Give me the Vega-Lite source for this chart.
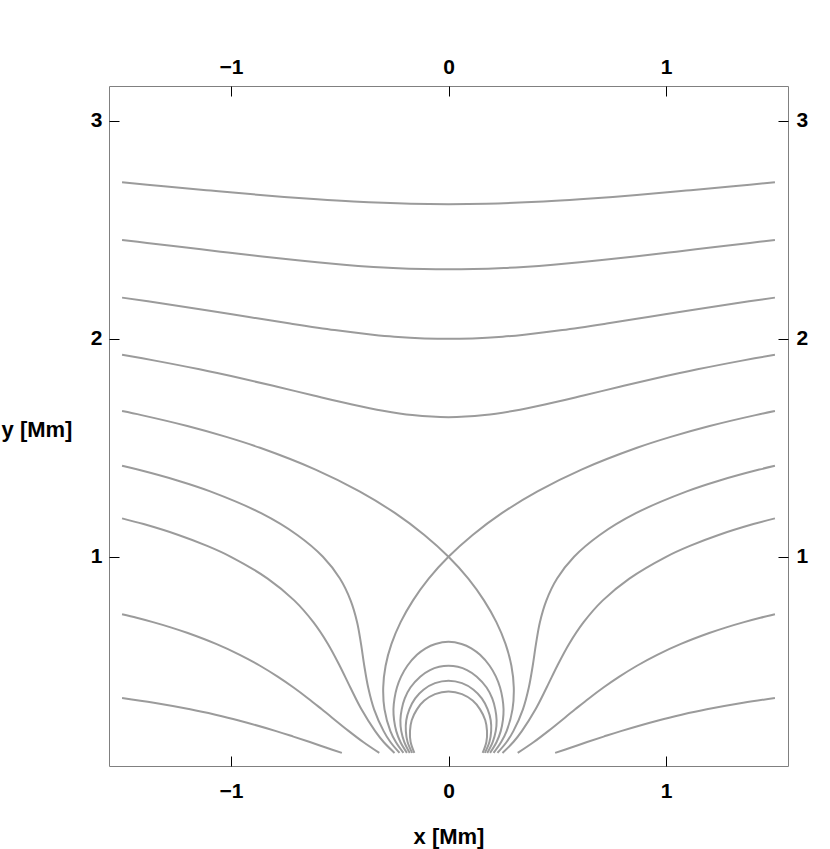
{
"$schema": "https://vega.github.io/schema/vega-lite/v6.json",
"width": 679, "height": 680,
"autosize": {"type": "none"},
"padding": {"left": 109, "top": 86, "right": 42, "bottom": 83},
"background": "white",
"config": {
  "view": {"stroke": "#808080", "strokeWidth": 1},
  "axis": {"domain": false, "grid": false, "tickColor": "#000000", "tickSize": -10, "tickWidth": 1,
    "labelFont": "Liberation Sans", "labelFontSize": 21, "labelFontWeight": "bold", "labelColor": "#000000",
    "titleFont": "Liberation Sans", "titleFontSize": 22, "titleFontWeight": "bold", "titleColor": "#000000"}
},
"data": {"values": [
{"id":"t1","i":0,"x":-1.5,"y":2.718},{"id":"t1","i":1,"x":-1.308,"y":2.70},{"id":"t1","i":2,"x":-1.092,"y":2.68},{"id":"t1","i":3,"x":-0.865,"y":2.66},{"id":"t1","i":4,"x":-0.603,"y":2.64},{"id":"t1","i":5,"x":-0.437,"y":2.63},{"id":"t1","i":6,"x":-0.174,"y":2.62},{"id":"t1","i":7,"x":0,"y":2.618},{"id":"t1","i":8,"x":0.174,"y":2.62},{"id":"t1","i":9,"x":0.437,"y":2.63},{"id":"t1","i":10,"x":0.603,"y":2.64},{"id":"t1","i":11,"x":0.865,"y":2.66},{"id":"t1","i":12,"x":1.092,"y":2.68},{"id":"t1","i":13,"x":1.308,"y":2.70},{"id":"t1","i":14,"x":1.5,"y":2.718},
{"id":"t2","i":0,"x":-1.5,"y":2.4535},{"id":"t2","i":1,"x":-1.385,"y":2.44},{"id":"t2","i":2,"x":-1.215,"y":2.42},{"id":"t2","i":3,"x":-1.047,"y":2.40},{"id":"t2","i":4,"x":-0.876,"y":2.38},{"id":"t2","i":5,"x":-0.694,"y":2.36},{"id":"t2","i":6,"x":-0.481,"y":2.34},{"id":"t2","i":7,"x":-0.345,"y":2.33},{"id":"t2","i":8,"x":-0.255,"y":2.325},{"id":"t2","i":9,"x":-0.114,"y":2.32},{"id":"t2","i":10,"x":0,"y":2.3187},{"id":"t2","i":11,"x":0.114,"y":2.32},{"id":"t2","i":12,"x":0.255,"y":2.325},{"id":"t2","i":13,"x":0.345,"y":2.33},{"id":"t2","i":14,"x":0.481,"y":2.34},{"id":"t2","i":15,"x":0.694,"y":2.36},{"id":"t2","i":16,"x":0.876,"y":2.38},{"id":"t2","i":17,"x":1.047,"y":2.40},{"id":"t2","i":18,"x":1.215,"y":2.42},{"id":"t2","i":19,"x":1.385,"y":2.44},{"id":"t2","i":20,"x":1.5,"y":2.4535},
{"id":"t3","i":0,"x":-1.5,"y":2.189},{"id":"t3","i":1,"x":-1.299,"y":2.16},{"id":"t3","i":2,"x":-1.105,"y":2.13},{"id":"t3","i":3,"x":-0.917,"y":2.10},{"id":"t3","i":4,"x":-0.727,"y":2.07},{"id":"t3","i":5,"x":-0.523,"y":2.04},{"id":"t3","i":6,"x":-0.358,"y":2.02},{"id":"t3","i":7,"x":-0.249,"y":2.01},{"id":"t3","i":8,"x":0,"y":2.0},{"id":"t3","i":9,"x":0.249,"y":2.01},{"id":"t3","i":10,"x":0.358,"y":2.02},{"id":"t3","i":11,"x":0.523,"y":2.04},{"id":"t3","i":12,"x":0.727,"y":2.07},{"id":"t3","i":13,"x":0.917,"y":2.10},{"id":"t3","i":14,"x":1.105,"y":2.13},{"id":"t3","i":15,"x":1.299,"y":2.16},{"id":"t3","i":16,"x":1.5,"y":2.189},
{"id":"t4","i":0,"x":-1.5,"y":1.927},{"id":"t4","i":1,"x":-1.349,"y":1.90},{"id":"t4","i":2,"x":-1.144,"y":1.86},{"id":"t4","i":3,"x":-0.959,"y":1.82},{"id":"t4","i":4,"x":-0.787,"y":1.78},{"id":"t4","i":5,"x":-0.620,"y":1.74},{"id":"t4","i":6,"x":-0.448,"y":1.70},{"id":"t4","i":7,"x":-0.301,"y":1.67},{"id":"t4","i":8,"x":-0.166,"y":1.65},{"id":"t4","i":9,"x":0,"y":1.6404},{"id":"t4","i":10,"x":0.166,"y":1.65},{"id":"t4","i":11,"x":0.301,"y":1.67},{"id":"t4","i":12,"x":0.448,"y":1.70},{"id":"t4","i":13,"x":0.620,"y":1.74},{"id":"t4","i":14,"x":0.787,"y":1.78},{"id":"t4","i":15,"x":0.959,"y":1.82},{"id":"t4","i":16,"x":1.144,"y":1.86},{"id":"t4","i":17,"x":1.349,"y":1.90},{"id":"t4","i":18,"x":1.5,"y":1.927},
{"id":"l1","i":0,"x":-0.191,"y":0.1},{"id":"l1","i":1,"x":-0.221,"y":0.15},{"id":"l1","i":2,"x":-0.240,"y":0.2},{"id":"l1","i":3,"x":-0.250,"y":0.25},{"id":"l1","i":4,"x":-0.253,"y":0.3},{"id":"l1","i":5,"x":-0.248,"y":0.35},{"id":"l1","i":6,"x":-0.237,"y":0.4},{"id":"l1","i":7,"x":-0.218,"y":0.45},{"id":"l1","i":8,"x":-0.189,"y":0.5},{"id":"l1","i":9,"x":-0.145,"y":0.55},{"id":"l1","i":10,"x":-0.105,"y":0.58},{"id":"l1","i":11,"x":-0.060,"y":0.6},{"id":"l1","i":12,"x":0,"y":0.6096},{"id":"l1","i":13,"x":0.060,"y":0.6},{"id":"l1","i":14,"x":0.105,"y":0.58},{"id":"l1","i":15,"x":0.145,"y":0.55},{"id":"l1","i":16,"x":0.189,"y":0.5},{"id":"l1","i":17,"x":0.218,"y":0.45},{"id":"l1","i":18,"x":0.237,"y":0.4},{"id":"l1","i":19,"x":0.248,"y":0.35},{"id":"l1","i":20,"x":0.253,"y":0.3},{"id":"l1","i":21,"x":0.250,"y":0.25},{"id":"l1","i":22,"x":0.240,"y":0.2},{"id":"l1","i":23,"x":0.221,"y":0.15},{"id":"l1","i":24,"x":0.191,"y":0.1},
{"id":"l2","i":0,"x":-0.178,"y":0.1},{"id":"l2","i":1,"x":-0.203,"y":0.15},{"id":"l2","i":2,"x":-0.217,"y":0.2},{"id":"l2","i":3,"x":-0.221,"y":0.25},{"id":"l2","i":4,"x":-0.215,"y":0.3},{"id":"l2","i":5,"x":-0.201,"y":0.35},{"id":"l2","i":6,"x":-0.175,"y":0.4},{"id":"l2","i":7,"x":-0.130,"y":0.45},{"id":"l2","i":8,"x":-0.085,"y":0.48},{"id":"l2","i":9,"x":-0.043,"y":0.495},{"id":"l2","i":10,"x":0,"y":0.5},{"id":"l2","i":11,"x":0.043,"y":0.495},{"id":"l2","i":12,"x":0.085,"y":0.48},{"id":"l2","i":13,"x":0.130,"y":0.45},{"id":"l2","i":14,"x":0.175,"y":0.4},{"id":"l2","i":15,"x":0.201,"y":0.35},{"id":"l2","i":16,"x":0.215,"y":0.3},{"id":"l2","i":17,"x":0.221,"y":0.25},{"id":"l2","i":18,"x":0.217,"y":0.2},{"id":"l2","i":19,"x":0.203,"y":0.15},{"id":"l2","i":20,"x":0.178,"y":0.1},
{"id":"l3","i":0,"x":-0.167,"y":0.1},{"id":"l3","i":1,"x":-0.188,"y":0.15},{"id":"l3","i":2,"x":-0.196,"y":0.2},{"id":"l3","i":3,"x":-0.194,"y":0.25},{"id":"l3","i":4,"x":-0.180,"y":0.3},{"id":"l3","i":5,"x":-0.153,"y":0.35},{"id":"l3","i":6,"x":-0.115,"y":0.39},{"id":"l3","i":7,"x":-0.062,"y":0.42},{"id":"l3","i":8,"x":0,"y":0.4313},{"id":"l3","i":9,"x":0.062,"y":0.42},{"id":"l3","i":10,"x":0.115,"y":0.39},{"id":"l3","i":11,"x":0.153,"y":0.35},{"id":"l3","i":12,"x":0.180,"y":0.3},{"id":"l3","i":13,"x":0.194,"y":0.25},{"id":"l3","i":14,"x":0.196,"y":0.2},{"id":"l3","i":15,"x":0.188,"y":0.15},{"id":"l3","i":16,"x":0.167,"y":0.1},
{"id":"l4","i":0,"x":-0.157,"y":0.1},{"id":"l4","i":1,"x":-0.174,"y":0.15},{"id":"l4","i":2,"x":-0.177,"y":0.2},{"id":"l4","i":3,"x":-0.169,"y":0.25},{"id":"l4","i":4,"x":-0.145,"y":0.3},{"id":"l4","i":5,"x":-0.111,"y":0.34},{"id":"l4","i":6,"x":-0.062,"y":0.37},{"id":"l4","i":7,"x":0,"y":0.382},{"id":"l4","i":8,"x":0.062,"y":0.37},{"id":"l4","i":9,"x":0.111,"y":0.34},{"id":"l4","i":10,"x":0.145,"y":0.3},{"id":"l4","i":11,"x":0.169,"y":0.25},{"id":"l4","i":12,"x":0.177,"y":0.2},{"id":"l4","i":13,"x":0.174,"y":0.15},{"id":"l4","i":14,"x":0.157,"y":0.1},
{"id":"s1","i":0,"x":-1.5,"y":1.6685},{"id":"s1","i":1,"x":-1.411,"y":1.65},{"id":"s1","i":2,"x":-1.2,"y":1.6},{"id":"s1","i":3,"x":-1.021,"y":1.55},{"id":"s1","i":4,"x":-0.866,"y":1.5},{"id":"s1","i":5,"x":-0.611,"y":1.4},{"id":"s1","i":6,"x":-0.409,"y":1.3},{"id":"s1","i":7,"x":-0.245,"y":1.2},{"id":"s1","i":8,"x":-0.111,"y":1.1},{"id":"s1","i":9,"x":0,"y":1.0},{"id":"s1","i":10,"x":0.091,"y":0.9},{"id":"s1","i":11,"x":0.163,"y":0.8},{"id":"s1","i":12,"x":0.220,"y":0.7},{"id":"s1","i":13,"x":0.262,"y":0.6},{"id":"s1","i":14,"x":0.289,"y":0.5},{"id":"s1","i":15,"x":0.300,"y":0.4},{"id":"s1","i":16,"x":0.294,"y":0.3},{"id":"s1","i":17,"x":0.267,"y":0.2},{"id":"s1","i":18,"x":0.242,"y":0.15},{"id":"s1","i":19,"x":0.207,"y":0.1},
{"id":"s2","i":0,"x":1.5,"y":1.6685},{"id":"s2","i":1,"x":1.411,"y":1.65},{"id":"s2","i":2,"x":1.2,"y":1.6},{"id":"s2","i":3,"x":1.021,"y":1.55},{"id":"s2","i":4,"x":0.866,"y":1.5},{"id":"s2","i":5,"x":0.611,"y":1.4},{"id":"s2","i":6,"x":0.409,"y":1.3},{"id":"s2","i":7,"x":0.245,"y":1.2},{"id":"s2","i":8,"x":0.111,"y":1.1},{"id":"s2","i":9,"x":0,"y":1.0},{"id":"s2","i":10,"x":-0.091,"y":0.9},{"id":"s2","i":11,"x":-0.163,"y":0.8},{"id":"s2","i":12,"x":-0.220,"y":0.7},{"id":"s2","i":13,"x":-0.262,"y":0.6},{"id":"s2","i":14,"x":-0.289,"y":0.5},{"id":"s2","i":15,"x":-0.300,"y":0.4},{"id":"s2","i":16,"x":-0.294,"y":0.3},{"id":"s2","i":17,"x":-0.267,"y":0.2},{"id":"s2","i":18,"x":-0.242,"y":0.15},{"id":"s2","i":19,"x":-0.207,"y":0.1},
{"id":"o1L","i":0,"x":-1.5,"y":1.4172},{"id":"o1L","i":1,"x":-1.428,"y":1.4},{"id":"o1L","i":2,"x":-1.246,"y":1.35},{"id":"o1L","i":3,"x":-1.095,"y":1.3},{"id":"o1L","i":4,"x":-0.861,"y":1.2},{"id":"o1L","i":5,"x":-0.695,"y":1.1},{"id":"o1L","i":6,"x":-0.577,"y":1.0},{"id":"o1L","i":7,"x":-0.499,"y":0.9},{"id":"o1L","i":8,"x":-0.450,"y":0.8},{"id":"o1L","i":9,"x":-0.420,"y":0.7},{"id":"o1L","i":10,"x":-0.402,"y":0.6},{"id":"o1L","i":11,"x":-0.387,"y":0.5},{"id":"o1L","i":12,"x":-0.369,"y":0.4},{"id":"o1L","i":13,"x":-0.342,"y":0.3},{"id":"o1L","i":14,"x":-0.298,"y":0.2},{"id":"o1L","i":15,"x":-0.267,"y":0.15},{"id":"o1L","i":16,"x":-0.225,"y":0.1},
{"id":"o1R","i":0,"x":1.5,"y":1.4172},{"id":"o1R","i":1,"x":1.428,"y":1.4},{"id":"o1R","i":2,"x":1.246,"y":1.35},{"id":"o1R","i":3,"x":1.095,"y":1.3},{"id":"o1R","i":4,"x":0.861,"y":1.2},{"id":"o1R","i":5,"x":0.695,"y":1.1},{"id":"o1R","i":6,"x":0.577,"y":1.0},{"id":"o1R","i":7,"x":0.499,"y":0.9},{"id":"o1R","i":8,"x":0.450,"y":0.8},{"id":"o1R","i":9,"x":0.420,"y":0.7},{"id":"o1R","i":10,"x":0.402,"y":0.6},{"id":"o1R","i":11,"x":0.387,"y":0.5},{"id":"o1R","i":12,"x":0.369,"y":0.4},{"id":"o1R","i":13,"x":0.342,"y":0.3},{"id":"o1R","i":14,"x":0.298,"y":0.2},{"id":"o1R","i":15,"x":0.267,"y":0.15},{"id":"o1R","i":16,"x":0.225,"y":0.1},
{"id":"o2L","i":0,"x":-1.5,"y":1.1763},{"id":"o2L","i":1,"x":-1.401,"y":1.15},{"id":"o2L","i":2,"x":-1.241,"y":1.1},{"id":"o2L","i":3,"x":-1.109,"y":1.05},{"id":"o2L","i":4,"x":-1.0,"y":1.0},{"id":"o2L","i":5,"x":-0.831,"y":0.9},{"id":"o2L","i":6,"x":-0.709,"y":0.8},{"id":"o2L","i":7,"x":-0.621,"y":0.7},{"id":"o2L","i":8,"x":-0.554,"y":0.6},{"id":"o2L","i":9,"x":-0.5,"y":0.5},{"id":"o2L","i":10,"x":-0.451,"y":0.4},{"id":"o2L","i":11,"x":-0.4,"y":0.3},{"id":"o2L","i":12,"x":-0.337,"y":0.2},{"id":"o2L","i":13,"x":-0.298,"y":0.15},{"id":"o2L","i":14,"x":-0.248,"y":0.1},
{"id":"o2R","i":0,"x":1.5,"y":1.1763},{"id":"o2R","i":1,"x":1.401,"y":1.15},{"id":"o2R","i":2,"x":1.241,"y":1.1},{"id":"o2R","i":3,"x":1.109,"y":1.05},{"id":"o2R","i":4,"x":1.0,"y":1.0},{"id":"o2R","i":5,"x":0.831,"y":0.9},{"id":"o2R","i":6,"x":0.709,"y":0.8},{"id":"o2R","i":7,"x":0.621,"y":0.7},{"id":"o2R","i":8,"x":0.554,"y":0.6},{"id":"o2R","i":9,"x":0.5,"y":0.5},{"id":"o2R","i":10,"x":0.451,"y":0.4},{"id":"o2R","i":11,"x":0.4,"y":0.3},{"id":"o2R","i":12,"x":0.337,"y":0.2},{"id":"o2R","i":13,"x":0.298,"y":0.15},{"id":"o2R","i":14,"x":0.248,"y":0.1},
{"id":"o3L","i":0,"x":-1.5,"y":0.7363},{"id":"o3L","i":1,"x":-1.433,"y":0.72},{"id":"o3L","i":2,"x":-1.358,"y":0.7},{"id":"o3L","i":3,"x":-1.273,"y":0.675},{"id":"o3L","i":4,"x":-1.198,"y":0.65},{"id":"o3L","i":5,"x":-1.068,"y":0.6},{"id":"o3L","i":6,"x":-0.959,"y":0.55},{"id":"o3L","i":7,"x":-0.866,"y":0.5},{"id":"o3L","i":8,"x":-0.785,"y":0.45},{"id":"o3L","i":9,"x":-0.712,"y":0.4},{"id":"o3L","i":10,"x":-0.645,"y":0.35},{"id":"o3L","i":11,"x":-0.582,"y":0.3},{"id":"o3L","i":12,"x":-0.458,"y":0.2},{"id":"o3L","i":13,"x":-0.392,"y":0.15},{"id":"o3L","i":14,"x":-0.318,"y":0.1},
{"id":"o3R","i":0,"x":1.5,"y":0.7363},{"id":"o3R","i":1,"x":1.433,"y":0.72},{"id":"o3R","i":2,"x":1.358,"y":0.7},{"id":"o3R","i":3,"x":1.273,"y":0.675},{"id":"o3R","i":4,"x":1.198,"y":0.65},{"id":"o3R","i":5,"x":1.068,"y":0.6},{"id":"o3R","i":6,"x":0.959,"y":0.55},{"id":"o3R","i":7,"x":0.866,"y":0.5},{"id":"o3R","i":8,"x":0.785,"y":0.45},{"id":"o3R","i":9,"x":0.712,"y":0.4},{"id":"o3R","i":10,"x":0.645,"y":0.35},{"id":"o3R","i":11,"x":0.582,"y":0.3},{"id":"o3R","i":12,"x":0.458,"y":0.2},{"id":"o3R","i":13,"x":0.392,"y":0.15},{"id":"o3R","i":14,"x":0.318,"y":0.1},
{"id":"o4L","i":0,"x":-1.5,"y":0.3518},{"id":"o4L","i":1,"x":-1.354,"y":0.33},{"id":"o4L","i":2,"x":-1.187,"y":0.3},{"id":"o4L","i":3,"x":-1.071,"y":0.275},{"id":"o4L","i":4,"x":-0.968,"y":0.25},{"id":"o4L","i":5,"x":-0.792,"y":0.2},{"id":"o4L","i":6,"x":-0.713,"y":0.175},{"id":"o4L","i":7,"x":-0.637,"y":0.15},{"id":"o4L","i":8,"x":-0.564,"y":0.125},{"id":"o4L","i":9,"x":-0.490,"y":0.1},
{"id":"o4R","i":0,"x":1.5,"y":0.3518},{"id":"o4R","i":1,"x":1.354,"y":0.33},{"id":"o4R","i":2,"x":1.187,"y":0.3},{"id":"o4R","i":3,"x":1.071,"y":0.275},{"id":"o4R","i":4,"x":0.968,"y":0.25},{"id":"o4R","i":5,"x":0.792,"y":0.2},{"id":"o4R","i":6,"x":0.713,"y":0.175},{"id":"o4R","i":7,"x":0.637,"y":0.15},{"id":"o4R","i":8,"x":0.564,"y":0.125},{"id":"o4R","i":9,"x":0.490,"y":0.1}
]},
"layer": [
  {"mark": {"type": "line", "interpolate": "catmull-rom", "color": "#9b9b9b", "strokeWidth": 2, "clip": true},
   "encoding": {
     "x": {"field": "x", "type": "quantitative", "scale": {"domain": [-1.56, 1.56], "nice": false, "zero": false},
       "axis": {"orient": "bottom", "values": [-1, 0, 1], "labelPadding": 41, "labelBaseline": "alphabetic", "title": "x [Mm]", "titleY": 77, "titleBaseline": "alphabetic"}},
     "y": {"field": "y", "type": "quantitative", "scale": {"domain": [0.04, 3.16], "nice": false, "zero": false},
       "axis": {"orient": "left", "values": [1, 2, 3], "labelPadding": 17, "title": "y [Mm]", "titleAngle": 0, "titleX": -72.5, "titleY": 343, "titleAlign": "center", "titleBaseline": "middle"}},
     "detail": {"field": "id"},
     "order": {"field": "i"}
   }},
  {"mark": {"type": "line", "strokeOpacity": 0},
   "encoding": {
     "x": {"field": "x", "type": "quantitative", "scale": {"domain": [-1.56, 1.56], "nice": false, "zero": false},
       "axis": {"orient": "top", "values": [-1, 0, 1], "labelPadding": 23, "labelBaseline": "alphabetic", "title": null}},
     "y": {"field": "y", "type": "quantitative", "scale": {"domain": [0.04, 3.16], "nice": false, "zero": false},
       "axis": {"orient": "right", "values": [1, 2, 3], "labelPadding": 18, "title": null}},
     "detail": {"field": "id"},
     "order": {"field": "i"}
   }}
],
"resolve": {"axis": {"x": "independent", "y": "independent"}}
}
